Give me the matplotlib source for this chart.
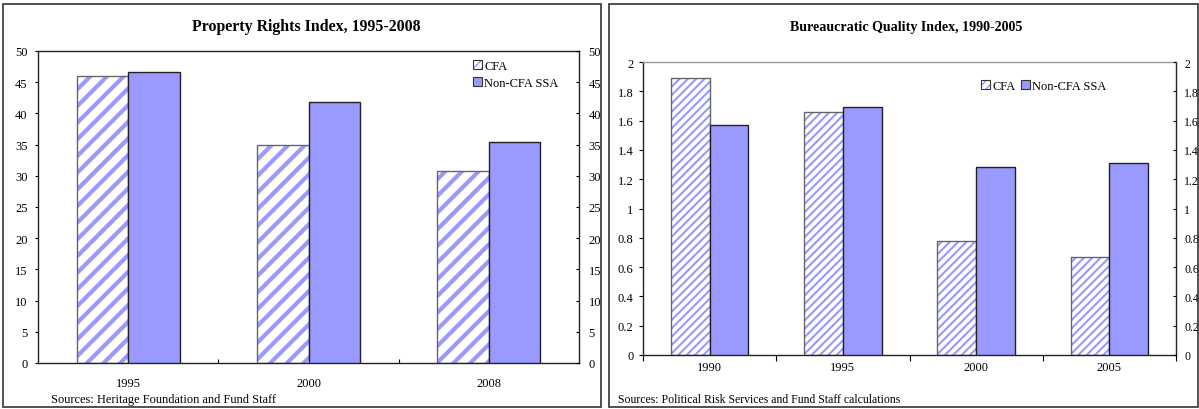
import matplotlib.pyplot as plt
import matplotlib as mpl
from matplotlib.patches import Rectangle, Patch
from matplotlib.legend_handler import HandlerTuple
import numpy as np

plt.rcParams['font.family'] = ['Liberation Serif', 'DejaVu Serif']

# property rights index
pr_years = ['1995', '2000', '2008']
pr_cfa = [46.0, 35.0, 30.8]
pr_noncfa = [46.7, 41.8, 35.4]

# bureaucratic quality index
bq_years = ['1990', '1995', '2000', '2005']
bq_cfa = [1.89, 1.66, 0.78, 0.67]
bq_noncfa = [1.57, 1.69, 1.28, 1.31]
bq_ticklabels = ['0', '0.2', '0.4', '0.6', '0.8', '1', '1.2', '1.4', '1.6', '1.8', '2']

W, H = 1199, 410
BLUE = '#9999FF'

fig = plt.figure(figsize=(W / 100, H / 100), dpi=100)


def frac(x0, y0, x1, y1):
    # pixel box (top-left origin) -> figure fraction rect
    return [x0 / W, 1 - y1 / H, (x1 - x0) / W, (y1 - y0) / H]


def panel_box(x0, y0, x1, y1):
    fig.patches.append(Rectangle((x0 / W, 1 - y1 / H), (x1 - x0) / W, (y1 - y0) / H,
                                 transform=fig.transFigure, fill=False,
                                 edgecolor='#333333', linewidth=1.2, zorder=0))


def hatched(hatch, hlw, **kw):
    with mpl.rc_context({'hatch.linewidth': hlw}):
        p = Patch(facecolor='white', edgecolor=BLUE, hatch=hatch, linewidth=0, **kw)
    if hasattr(p, 'set_hatch_linewidth'):
        p.set_hatch_linewidth(hlw)
    return p


def bars(ax, cfa, noncfa, width, hatch, hlw):
    x = np.arange(len(cfa))
    with mpl.rc_context({'hatch.linewidth': hlw}):
        hb = ax.bar(x - width / 2, cfa, width, color='white', edgecolor=BLUE,
                    hatch=hatch, linewidth=0, zorder=2)
    for p in hb:
        if hasattr(p, 'set_hatch_linewidth'):
            p.set_hatch_linewidth(hlw)
    ax.bar(x - width / 2, cfa, width, fill=False, edgecolor='#666666',
           linewidth=1.0, zorder=3)
    ax.bar(x + width / 2, noncfa, width, color=BLUE, edgecolor='#222222',
           linewidth=1.0, zorder=3)


def legend_handles(hatch, hlw):
    h1 = (hatched(hatch, hlw), Patch(fill=False, edgecolor='#333333', linewidth=0.8))
    h2 = Patch(facecolor=BLUE, edgecolor='#333333', linewidth=0.8)
    return [h1, h2]


# ---------------- left: property rights ----------------
panel_box(3, 5, 601, 408)
ax1 = fig.add_axes(frac(38, 52, 579, 364))
bars(ax1, pr_cfa, pr_noncfa, 0.285, '//', 3.0)
ax1.set_xlim(-0.5, 2.5)
ax1.set_ylim(0, 50)
ax1.set_yticks(np.arange(0, 51, 5))
ax1.set_xticks([0.5, 1.5])
ax1.set_xticklabels([])
ax1.set_xticks(range(len(pr_years)), minor=True)
ax1.set_xticklabels(pr_years, minor=True)
ax1.tick_params(axis='x', which='major', direction='in', length=3, width=0.8)
ax1.tick_params(axis='x', which='minor', length=0, pad=10, labelsize=9)
ax1.tick_params(axis='y', direction='out', length=2.5, width=0.8, pad=5, labelsize=9)
for s in ax1.spines.values():
    s.set_linewidth(1.0)
    s.set_color('#222222')
ax1r = ax1.twinx()
ax1r.set_ylim(0, 50)
ax1r.set_yticks(np.arange(0, 51, 5))
ax1r.tick_params(axis='y', direction='in', length=2.5, width=0.8, pad=7, labelsize=9)
for s in ax1r.spines.values():
    s.set_visible(False)
fig.text(306 / W, 1 - 27 / H, 'Property Rights Index, 1995-2008', ha='center', va='center',
         fontsize=11.4, fontweight='bold')
fig.text(51 / W, 1 - 400 / H, 'Sources: Heritage Foundation and Fund Staff', ha='left',
         va='center', fontsize=8.9)
fig.legend(handles=legend_handles('////', 1.0), labels=['CFA', 'Non-CFA SSA'],
           handler_map={tuple: HandlerTuple(ndivide=1)},
           loc='upper left', bbox_to_anchor=(473 / W, 1 - 61 / H), frameon=False,
           fontsize=8.9, handlelength=0.75, handleheight=0.75, handletextpad=0.15,
           labelspacing=0.4, borderaxespad=0, borderpad=0)

# ---------------- right: bureaucratic quality ----------------
panel_box(609, 5, 1198, 408)
ax2 = fig.add_axes(frac(643, 63, 1176, 356))
bars(ax2, bq_cfa, bq_noncfa, 0.29, '////', 1.5)
ax2.set_xlim(-0.5, 3.5)
ax2.set_ylim(0, 2)
ax2.set_yticks(np.arange(0, 2.01, 0.2))
ax2.set_yticklabels(bq_ticklabels)
ax2.set_xticks([-0.5, 0.5, 1.5, 2.5, 3.5])
ax2.set_xticklabels([])
ax2.set_xticks(range(len(bq_years)), minor=True)
ax2.set_xticklabels(bq_years, minor=True)
ax2.tick_params(axis='x', which='major', direction='out', length=4, width=0.8)
ax2.tick_params(axis='x', which='minor', length=0, pad=4, labelsize=9)
ax2.tick_params(axis='y', direction='out', length=3, width=0.8, pad=4, labelsize=9)
for s in ax2.spines.values():
    s.set_linewidth(1.0)
    s.set_color('#222222')
ax2.spines['top'].set_color('#999999')
ax2r = ax2.twinx()
ax2r.set_ylim(0, 2)
ax2r.set_yticks(np.arange(0, 2.01, 0.2))
ax2r.set_yticklabels(bq_ticklabels)
ax2r.tick_params(axis='y', direction='in', length=2.5, width=0.8, pad=6, labelsize=8.6)
for s in ax2r.spines.values():
    s.set_visible(False)
fig.text(906 / W, 1 - 27 / H, 'Bureaucratic Quality Index, 1990-2005', ha='center',
         va='center', fontsize=10.1, fontweight='bold')
fig.text(618 / W, 1 - 400 / H, 'Sources: Political Risk Services and Fund Staff calculations',
         ha='left', va='center', fontsize=8.5)
fig.legend(handles=legend_handles('////', 1.0), labels=['CFA', 'Non-CFA SSA'],
           handler_map={tuple: HandlerTuple(ndivide=1)},
           loc='center left', bbox_to_anchor=(981 / W, 1 - 87 / H), frameon=False,
           fontsize=8.9, ncol=2, handlelength=0.75, handleheight=0.75, handletextpad=0.15,
           columnspacing=0.45, borderaxespad=0, borderpad=0)

fig.savefig('out.png', dpi=100)
